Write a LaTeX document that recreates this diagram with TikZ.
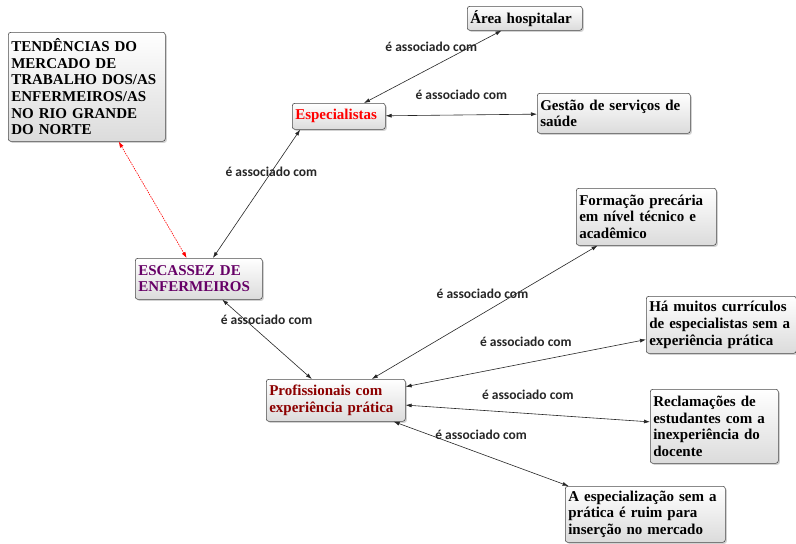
\documentclass[tikz,border=0pt]{standalone}
\usepackage{fontspec}
\setmainfont{Liberation Serif}
\newfontfamily\lblfont{Carlito}
\usepackage{xcolor}
\usetikzlibrary{arrows.meta,shadows}
\definecolor{escpurple}{RGB}{102,0,102}
\definecolor{profred}{RGB}{140,0,0}

\begin{document}
\begin{tikzpicture}[x=1pt,y=-1pt, box/.style={draw=black!70,line width=0.6pt,rounded corners=2.5pt,anchor=north west,align=left,inner xsep=3pt,inner ysep=2pt,top color=white,bottom color=black!14,drop shadow={shadow xshift=1.5pt,shadow yshift=-1.5pt,fill=black!35},font=\bfseries\fontsize{15}{16.6}\selectfont}, lbl/.style={font=\lblfont\bfseries\fontsize{13.5}{15}\selectfont,inner sep=1pt,text=black!85}, arr/.style={{Latex[length=6pt,width=4pt]}-{Latex[length=6pt,width=4pt]},line width=0.6pt,black!85}]
\fill[white] (0,0) rectangle (796,544);
\useasboundingbox (0,0) rectangle (796,544);
\node[box,text width=151pt,minimum height=109pt] (tend) at (8,32) {TENDÊNCIAS DO\\MERCADO DE\\TRABALHO DOS/AS\\ENFERMEIROS/AS\\NO RIO GRANDE\\DO NORTE};
\node[box,text width=87pt,minimum height=26pt,text=red] (esp) at (292,103) {Especialistas};
\node[box,text width=109pt,minimum height=24pt] (area) at (467,6) {Área hospitalar};
\node[box,text width=147pt,minimum height=40pt] (gest) at (537,93) {Gestão de serviços de\\saúde};
\node[box,text width=121pt,minimum height=41pt,text=escpurple] (esc) at (135,258) {ESCASSEZ DE\\ENFERMEIROS};
\node[box,text width=134pt,minimum height=57pt] (form) at (576,188) {Formação precária\\em nível técnico e\\acadêmico};
\node[box,text width=144pt,minimum height=57pt] (ha) at (646,296) {Há muitos currículos\\de especialistas sem a\\experiência prática};
\node[box,text width=133pt,minimum height=42pt,text=profred] (prof) at (266,379) {Profissionais com\\experiência prática};
\node[box,text width=122pt,minimum height=74pt] (recl) at (650,389) {Reclamações de\\estudantes com a\\inexperiência do\\docente};
\node[box,text width=154pt,minimum height=56pt] (aesp) at (565,486) {A especialização sem a\\prática é ruim para\\inserção no mercado};
\draw[arr,red,dash pattern=on 1.5pt off 1pt] (tend)--(esc);
\draw[arr] (esp.199)--node[lbl,pos=.33]{é associado com}(esc);
\draw[arr] (esp)--node[lbl,pos=.78,xshift=-40pt]{é associado com}(area);
\draw[arr] (esp)--node[lbl,yshift=20pt]{é associado com}(gest);
\draw[arr] (esc)--node[lbl,pos=.26,xshift=21pt]{é associado com}(prof);
\draw[arr] (prof)--node[lbl,pos=.49,yshift=20pt]{é associado com}(form);
\draw[arr] (prof)--node[lbl,yshift=21pt]{é associado com}(ha);
\draw[arr] (prof)--node[lbl,yshift=19pt]{é associado com}(recl);
\draw[arr] (prof)--node[lbl,yshift=19pt]{é associado com}(aesp);
\end{tikzpicture}
\end{document}
